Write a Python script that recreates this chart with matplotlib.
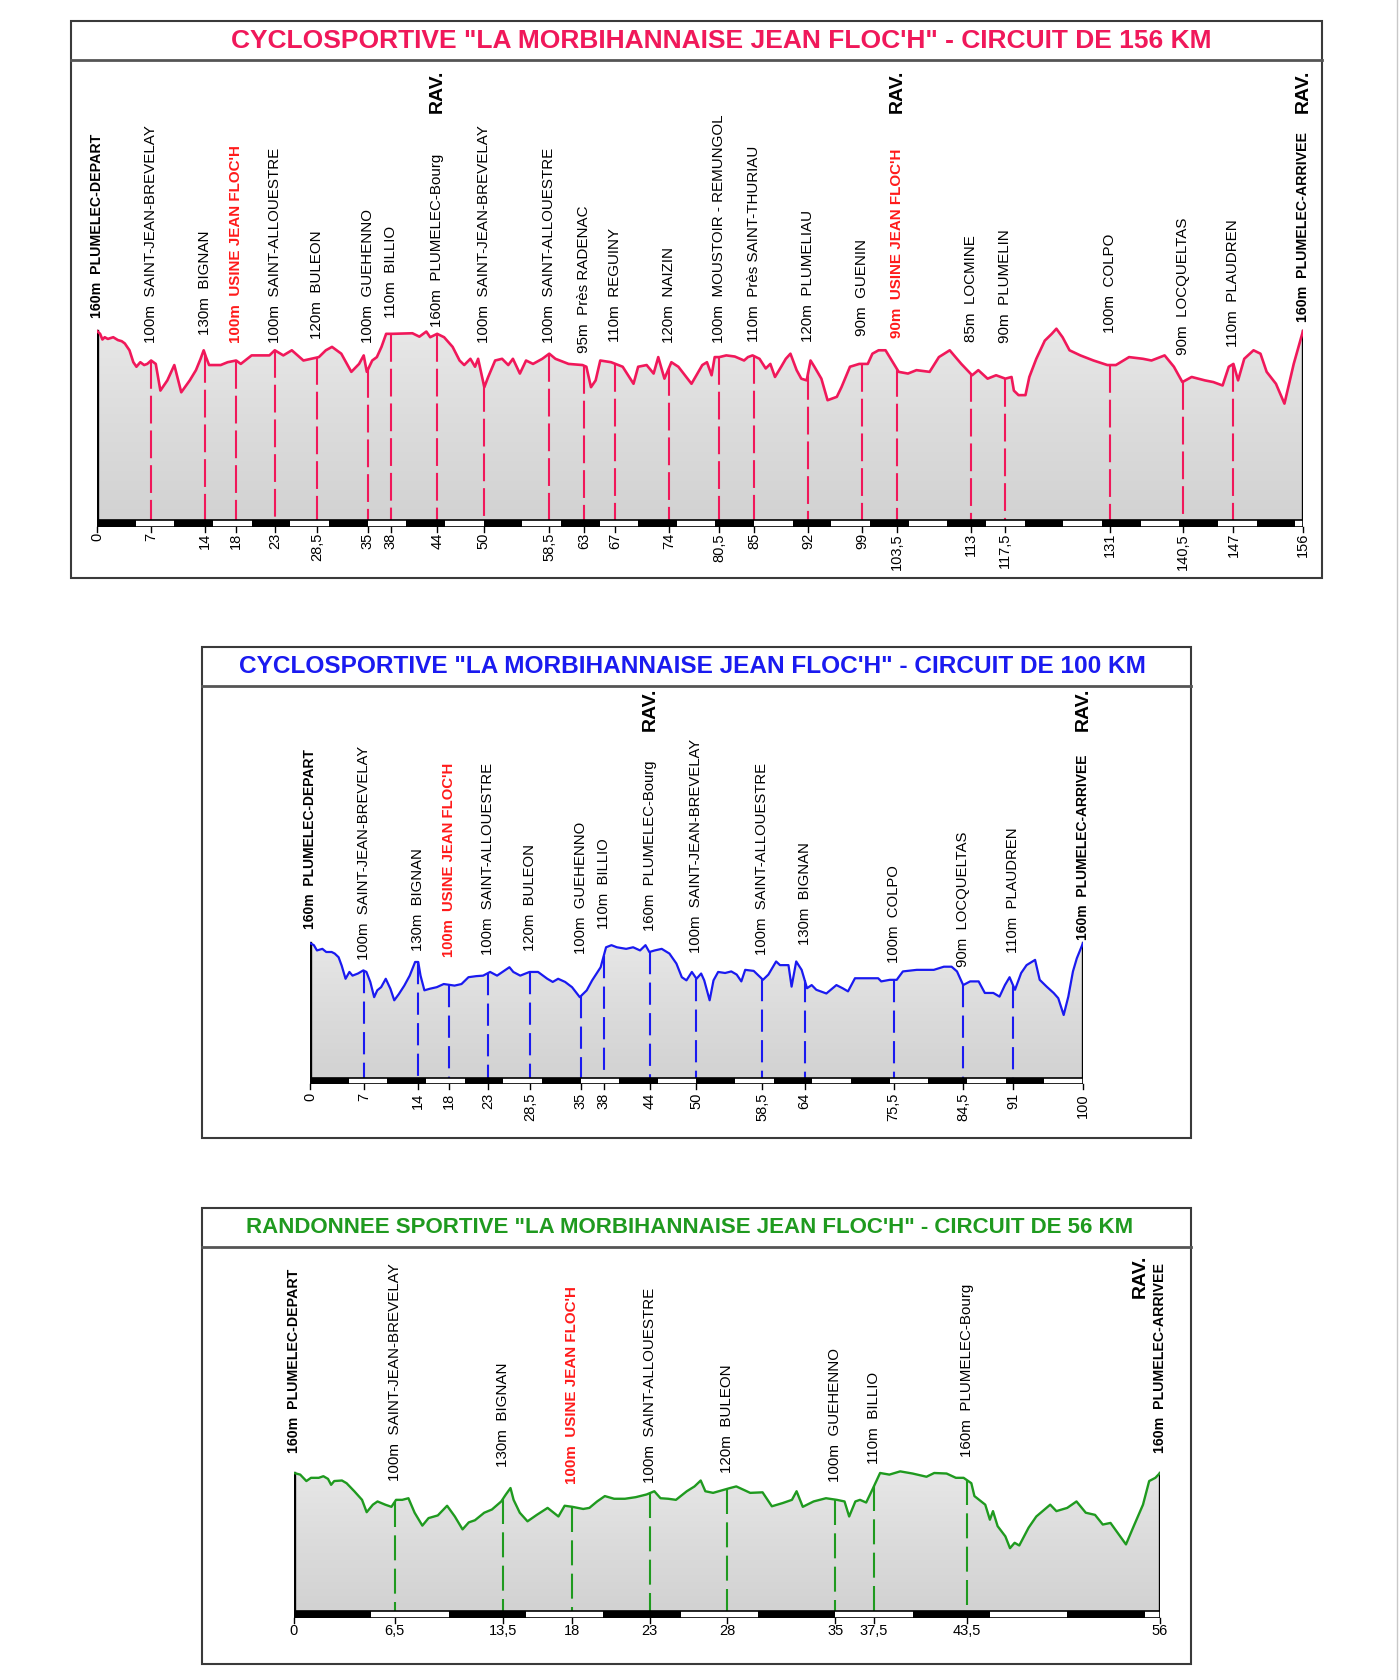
"""
Profils altimétriques - La Morbihannaise Jean Floc'h (156, 100 et 56 km).
"""
import numpy as np
import matplotlib.pyplot as plt
from matplotlib.colors import LinearSegmentedColormap
from matplotlib.lines import Line2D
from matplotlib.patches import PathPatch, Rectangle
from matplotlib.path import Path

plt.rcParams['font.family'] = ['Liberation Sans', 'DejaVu Sans']
plt.rcParams['lines.scale_dashes'] = False

W, H = 1399, 1680

# ---------------- données : circuit 156 km ----------------
km_156 = [0, 0.4, 0.7, 1.0, 1.4, 2.1, 2.7, 3.2, 3.6, 4.2,
          4.7, 5.1, 5.6, 6.1, 6.5, 7.0, 7.6, 8.2, 9.1, 10.0,
          10.9, 12.0, 12.8, 13.4, 13.8, 14.1, 14.5, 16.0, 16.9, 18.0,
          18.6, 20.0, 22.3, 23.0, 24.1, 25.2, 26.7, 28.7, 29.6, 30.4,
          31.6, 32.9, 33.9, 34.5, 34.9, 35.6, 36.2, 36.8, 37.4, 38.2,
          40.8, 41.7, 42.6, 43.1, 44.0, 44.9, 46.0, 46.9, 47.5, 48.3,
          48.9, 49.3, 50.1, 50.6, 51.5, 52.4, 53.2, 53.8, 54.7, 55.5,
          56.4, 57.6, 58.5, 59.3, 61.0, 62.8, 63.3, 63.9, 64.5, 65.1,
          66.5, 68.0, 69.4, 70.0, 71.1, 72.0, 72.6, 73.4, 74.3, 75.2,
          76.9, 78.3, 78.9, 79.5, 79.9, 80.5, 81.4, 82.5, 83.7, 84.2,
          84.8, 85.7, 86.5, 87.1, 87.7, 88.5, 89.1, 89.7, 90.5, 91.1,
          91.8, 92.3, 92.8, 93.7, 94.5, 95.7, 96.3, 97.4, 98.6, 99.7,
          100.3, 101.1, 102.0, 103.7, 104.9, 106.0, 107.7, 108.9, 110.3, 111.8,
          113.2, 114.0, 115.2, 116.3, 117.5, 118.3, 118.6, 119.2, 120.1, 120.6,
          121.5, 122.6, 123.5, 124.1, 124.9, 125.8, 127.2, 128.9, 130.7, 131.8,
          133.5, 135.3, 136.4, 138.1, 139.3, 140.4, 141.6, 143.3, 144.4, 145.6,
          146.4, 147.0, 147.6, 148.4, 149.6, 150.5, 151.3, 152.5, 153.6, 154.8,
          156.0]
alt_156 = [160, 155, 145, 149, 146, 149, 144, 142, 138, 126,
           105, 97, 105, 100, 102, 108, 102, 55, 73, 100,
           52, 73, 91, 111, 126, 114, 100, 100, 105, 108,
           102, 117, 117, 126, 117, 126, 108, 114, 126, 132,
           120, 88, 102, 117, 88, 108, 114, 132, 155, 155,
           156, 150, 159, 149, 155, 149, 132, 108, 100, 111,
           97, 111, 61, 79, 108, 111, 100, 111, 85, 108,
           102, 111, 120, 111, 102, 100, 97, 61, 73, 108,
           105, 97, 67, 97, 100, 85, 114, 76, 105, 97,
           67, 100, 105, 82, 114, 114, 117, 115, 108, 114,
           117, 111, 94, 102, 79, 97, 111, 120, 91, 76,
           73, 108, 97, 76, 38, 44, 61, 97, 102, 102,
           120, 126, 126, 88, 85, 91, 88, 114, 126, 102,
           82, 91, 76, 82, 76, 79, 55, 47, 47, 79,
           111, 143, 155, 164, 149, 126, 117, 108, 100, 100,
           114, 111, 108, 117, 97, 70, 79, 73, 70, 64,
           97, 102, 73, 111, 126, 120, 88, 67, 32, 102,
           160]
pt_km_156 = [0, 7, 14, 18, 23, 28.5, 35, 38, 44, 50, 58.5, 63, 67, 74, 80.5,
             85, 92, 99, 103.5, 113, 117.5, 131, 140.5, 147, 156]
pt_alt_156 = [160, 100, 130, 100, 100, 120, 100, 110, 160, 100, 100, 95, 110,
              120, 100, 110, 120, 90, 90, 85, 90, 100, 90, 110, 160]
pt_nom_156 = ['PLUMELEC-DEPART', 'SAINT-JEAN-BREVELAY', 'BIGNAN',
              "USINE JEAN FLOC'H", 'SAINT-ALLOUESTRE', 'BULEON', 'GUEHENNO',
              'BILLIO', 'PLUMELEC-Bourg', 'SAINT-JEAN-BREVELAY',
              'SAINT-ALLOUESTRE', 'Près RADENAC', 'REGUINY', 'NAIZIN',
              'MOUSTOIR - REMUNGOL', 'Près SAINT-THURIAU', 'PLUMELIAU', 'GUENIN',
              "USINE JEAN FLOC'H", 'LOCMINE', 'PLUMELIN', 'COLPO', 'LOCQUELTAS',
              'PLAUDREN', 'PLUMELEC-ARRIVEE']
rav_156 = [44, 103.5, 156]

# ---------------- données : circuit 100 km ----------------
km_100 = [0, 0.5, 0.9, 1.6, 2.1, 2.8, 3.2, 3.7, 4.1, 4.6,
          5.1, 5.5, 6.2, 6.9, 7.3, 7.8, 8.3, 8.7, 9.2, 9.8,
          10.4, 10.9, 11.5, 12.2, 12.9, 13.6, 14.0, 14.3, 14.8, 15.5,
          16.4, 17.3, 18.7, 19.6, 20.5, 21.5, 22.4, 23.3, 24.2, 24.9,
          25.8, 26.3, 27.2, 28.4, 29.5, 30.7, 31.4, 32.1, 33.0, 33.9,
          34.9, 35.8, 36.5, 37.2, 37.6, 38.3, 39.0, 39.7, 40.9, 41.8,
          42.7, 43.4, 43.9, 44.6, 45.5, 46.5, 47.4, 48.1, 48.7, 49.4,
          50.0, 50.6, 51.0, 51.7, 52.2, 52.8, 53.7, 54.5, 55.2, 55.8,
          56.3, 57.4, 58.6, 59.3, 59.9, 60.3, 60.8, 61.9, 62.3, 62.9,
          63.6, 64.3, 64.9, 65.5, 66.8, 68.1, 68.9, 69.6, 70.5, 72.0,
          73.5, 73.9, 75.0, 75.9, 76.7, 78.5, 80.7, 82.0, 83.0, 83.7,
          84.5, 85.4, 86.5, 87.3, 88.4, 89.2, 89.9, 90.5, 91.2, 92.0,
          92.7, 93.8, 94.4, 95.3, 96.2, 96.8, 97.5, 98.1, 98.7, 99.2,
          100]
alt_100 = [160, 156, 146, 149, 143, 143, 140, 133, 117, 92,
           105, 98, 102, 108, 105, 86, 57, 70, 76, 92,
           73, 51, 63, 79, 98, 124, 124, 98, 70, 73,
           76, 82, 79, 82, 95, 97, 98, 105, 98, 105,
           114, 105, 98, 105, 105, 92, 86, 92, 86, 76,
           57, 70, 89, 105, 114, 152, 156, 152, 149, 152,
           146, 156, 143, 146, 149, 140, 121, 95, 89, 105,
           92, 102, 89, 51, 89, 105, 103, 106, 100, 87,
           109, 107, 90, 100, 115, 125, 118, 118, 77, 125,
           109, 74, 80, 71, 64, 80, 74, 68, 93, 93,
           93, 87, 90, 90, 106, 109, 109, 115, 115, 106,
           80, 87, 87, 65, 65, 58, 80, 95, 71, 103,
           118, 128, 90, 77, 65, 55, 23, 58, 106, 131,
           160]
pt_km_100 = [0, 7, 14, 18, 23, 28.5, 35, 38, 44, 50, 58.5, 64, 75.5, 84.5, 91, 100]
pt_alt_100 = [160, 100, 130, 100, 100, 120, 100, 110, 160, 100, 100, 130, 100,
              90, 110, 160]
pt_nom_100 = ['PLUMELEC-DEPART', 'SAINT-JEAN-BREVELAY', 'BIGNAN',
              "USINE JEAN FLOC'H", 'SAINT-ALLOUESTRE', 'BULEON', 'GUEHENNO',
              'BILLIO', 'PLUMELEC-Bourg', 'SAINT-JEAN-BREVELAY',
              'SAINT-ALLOUESTRE', 'BIGNAN', 'COLPO', 'LOCQUELTAS', 'PLAUDREN',
              'PLUMELEC-ARRIVEE']
rav_100 = [44, 100]

# ---------------- données : circuit 56 km ----------------
km_56 = [0, 0.4, 0.8, 1.1, 1.6, 1.9, 2.2, 2.4, 2.6, 3.1,
         3.4, 3.9, 4.4, 4.7, 5.1, 5.4, 5.9, 6.3, 6.6, 7.0,
         7.4, 7.8, 8.3, 8.7, 9.3, 9.9, 10.4, 10.9, 11.3, 11.7,
         12.3, 12.8, 13.4, 13.7, 14.0, 14.2, 14.6, 15.1, 15.7, 16.4,
         17.1, 17.5, 18.0, 18.7, 19.1, 19.6, 20.1, 20.7, 21.4, 22.1,
         22.8, 23.3, 23.7, 24.2, 24.7, 25.4, 25.9, 26.3, 26.6, 27.1,
         28.2, 28.6, 29.5, 30.3, 30.9, 31.6, 32.2, 32.5, 32.9, 33.6,
         34.4, 35.1, 35.6, 35.9, 36.3, 36.6, 37.0, 37.4, 37.9, 38.5,
         39.2, 40.0, 40.9, 41.4, 42.2, 42.8, 43.3, 43.8, 44.0, 44.7,
         45.0, 45.2, 45.5, 46.0, 46.3, 46.6, 46.9, 47.5, 48.0, 48.9,
         49.3, 50.0, 50.6, 51.2, 51.8, 52.3, 52.8, 53.2, 53.8, 54.3,
         54.9, 55.3, 55.7, 56.0]
alt_56 = [160, 157, 145, 151, 151, 154, 149, 138, 145, 146,
          141, 126, 110, 87, 101, 107, 101, 97, 110, 110,
          113, 86, 62, 76, 81, 99, 79, 55, 68, 72,
          86, 92, 107, 120, 132, 110, 86, 70, 82, 95,
          79, 99, 97, 93, 95, 107, 117, 112, 112, 115,
          120, 126, 113, 112, 110, 126, 135, 146, 126, 123,
          132, 135, 123, 124, 98, 104, 110, 126, 97, 107,
          113, 110, 107, 79, 107, 110, 105, 129, 160, 157,
          163, 159, 153, 160, 159, 151, 151, 141, 117, 101,
          73, 89, 61, 42, 20, 30, 25, 58, 79, 101,
          89, 95, 107, 86, 82, 64, 67, 51, 27, 61,
          101, 145, 151, 160]
pt_km_56 = [0, 6.5, 13.5, 18, 23, 28, 35, 37.5, 43.5, 56]
pt_alt_56 = [160, 100, 130, 100, 100, 120, 100, 110, 160, 160]
pt_nom_56 = ['PLUMELEC-DEPART', 'SAINT-JEAN-BREVELAY', 'BIGNAN',
             "USINE JEAN FLOC'H", 'SAINT-ALLOUESTRE', 'BULEON', 'GUEHENNO',
             'BILLIO', 'PLUMELEC-Bourg', 'PLUMELEC-ARRIVEE']
rav_56 = [56]

# ---------------- mise en page (pixels / altitudes d'étiquettes) ----------------
# hauteur (en m, échelle du graphe) du pied de chaque étiquette verticale
lab_156 = [183, 139, 153, 139, 139, 146, 139, 183, 167, 139, 139, 121, 141,
           139, 139, 141, 141, 151, 148, 141, 139, 156, 118, 132, 176]
lab_100 = [187, 128, 145, 133, 137, 145, 139, 187, 183, 141, 137, 156, 122,
           114, 141, 166]
lab_56 = [197, 145, 171, 140, 141, 160, 143, 177, 190, 197]

GRIS = LinearSegmentedColormap.from_list('gris', ['#d2d2d2', '#dcdcdc', '#e8e8e8'])

fig = plt.figure(figsize=(W / 100, H / 100), dpi=100)
ren = fig.canvas.get_renderer()


def panneau(cadre, titre, couleur, titre_larg, titre_cx, geo, km, alt, pkm, palt,
            pnom, rav, lab, fs_lab, ticks_verticaux, rav_bas, rav_dx, tiret,
            lw_profil, tick_pad):
    l, r, t, sep, b = cadre
    fig.add_artist(Rectangle((l / W, 1 - b / H), (r - l) / W, (b - t) / H,
                             transform=fig.transFigure, fill=False,
                             ec='#3a3a3a', lw=1.5))
    fig.add_artist(Line2D([l / W, r / W], [1 - sep / H] * 2,
                          transform=fig.transFigure, color='#555555', lw=2.0))

    # titre ajusté à la largeur mesurée
    txt = fig.text(titre_cx / W, 1 - (t + sep) / 2 / H, titre, ha='center',
                   va='center', color=couleur, fontweight='bold', fontsize=16)
    w = txt.get_window_extent(ren).width
    txt.set_fontsize(16 * titre_larg / w)

    x0, x1, base, bande, ppm, ymin = geo
    ymax = 175
    kmax = pkm[-1]
    haut = base - (ymax - ymin) * ppm
    bas = base + bande
    ax = fig.add_axes([x0 / W, 1 - bas / H, (x1 - x0) / W, (bas - haut) / H])
    ax.set_axis_off()
    yb = ymin - bande / ppm

    # remplissage gris dégradé
    verts = [(0, ymin)] + list(zip(km, alt)) + [(kmax, ymin), (0, ymin)]
    clip = PathPatch(Path(verts), transform=ax.transData, fc='none', ec='none')
    ax.add_patch(clip)
    degrade = np.linspace(0, 1, 200).reshape(-1, 1)
    im = ax.imshow(degrade, extent=[0, kmax, ymin, 170], origin='lower',
                   aspect='auto', cmap=GRIS, zorder=1)
    im.set_clip_path(clip)

    # repères en tirets
    for p in pkm[1:-1]:
        e = np.interp(p, km, alt)
        ax.plot([p, p], [e, ymin], color=couleur, lw=1.5,
                ls=(0, tiret), zorder=2)
    ax.plot([0, 0], [ymin, alt[0]], color='black', lw=2.4, zorder=3)
    ax.plot([kmax, kmax], [ymin, alt[-1]], color='black', lw=2.4, zorder=3)
    ax.plot(km, alt, color=couleur, lw=lw_profil, zorder=4,
            solid_joinstyle='round')

    # bande kilométrique noir / blanc tous les 5 km
    for i, s in enumerate(range(0, int(np.ceil(kmax)), 5)):
        ax.add_patch(Rectangle((s, yb), min(5, kmax - s), ymin - yb,
                               fc='black' if i % 2 == 0 else 'white',
                               ec='none', zorder=5))
    ax.add_patch(Rectangle((0, yb), kmax, ymin - yb, fill=False,
                           ec='black', lw=1.2, zorder=6))

    for p, a, n, yl in zip(pkm, palt, pnom, lab):
        ax.plot([p, p], [yb, yb - 5 / ppm], color='black', lw=1,
                clip_on=False)
        etiq = f'{p:g}'.replace('.', ',')
        if ticks_verticaux:
            ax.text(p, yb - tick_pad / ppm, etiq, rotation=90, ha='center',
                    va='top', fontsize=10.5)
        else:
            ax.text(p, yb - tick_pad / ppm, etiq, ha='center', va='top',
                    fontsize=10.5)
        fs = fs_lab
        if 'USINE' in n:
            col, fw = '#ff1a1a', 'bold'
        elif 'DEPART' in n or 'ARRIVEE' in n:
            col, fw, fs = 'black', 'bold', fs_lab - 0.7
        else:
            col, fw = 'black', 'normal'
        ax.text(p, yl, f'{a}m  {n}', rotation=90, ha='center', va='bottom',
                fontsize=fs, color=col, fontweight=fw, clip_on=False)

    for p in rav:
        xp = x0 + p / kmax * (x1 - x0) + rav_dx
        fig.text(xp / W, 1 - rav_bas / H, 'RAV.', rotation=90, ha='center',
                 va='bottom', fontsize=14, fontweight='bold')

    ax.set_xlim(0, kmax)
    ax.set_ylim(yb, ymax)


panneau((71, 1322, 21, 60, 578),
        'CYCLOSPORTIVE "LA MORBIHANNAISE JEAN FLOC\'H" - CIRCUIT DE 156 KM',
        '#f0185a', 984, 721, (97, 1303, 520, 7, 0.5676, -173),
        km_156, alt_156, pt_km_156, pt_alt_156, pt_nom_156, rav_156, lab_156,
        10.9, True, 113, 0, (20, 5), 1.9, 6)

panneau((202, 1191, 647, 686, 1138),
        'CYCLOSPORTIVE "LA MORBIHANNAISE JEAN FLOC\'H" - CIRCUIT DE 100 KM',
        '#1a1af0', 906, 692, (310, 1083, 1078, 6, 0.525, -97),
        km_100, alt_100, pt_km_100, pt_alt_100, pt_nom_100, rav_100, lab_100,
        10.7, True, 731, 0, (16, 6), 1.6, 9)

panneau((202, 1191, 1208, 1247, 1664),
        'RANDONNEE SPORTIVE "LA MORBIHANNAISE JEAN FLOC\'H" - CIRCUIT DE 56 KM',
        '#1f9a1f', 889, 690, (294, 1160, 1611, 7, 0.537, -97),
        km_56, alt_56, pt_km_56, pt_alt_56, pt_nom_56, rav_56, lab_56,
        10.9, False, 1298, -20, (18, 6), 1.7, 6)

# liseré gris en bord droit de la page
fig.add_artist(Line2D([1397 / W] * 2, [0, 1], transform=fig.transFigure,
                      color='#c8c8c8', lw=1))

fig.savefig('out.png', dpi=100)
